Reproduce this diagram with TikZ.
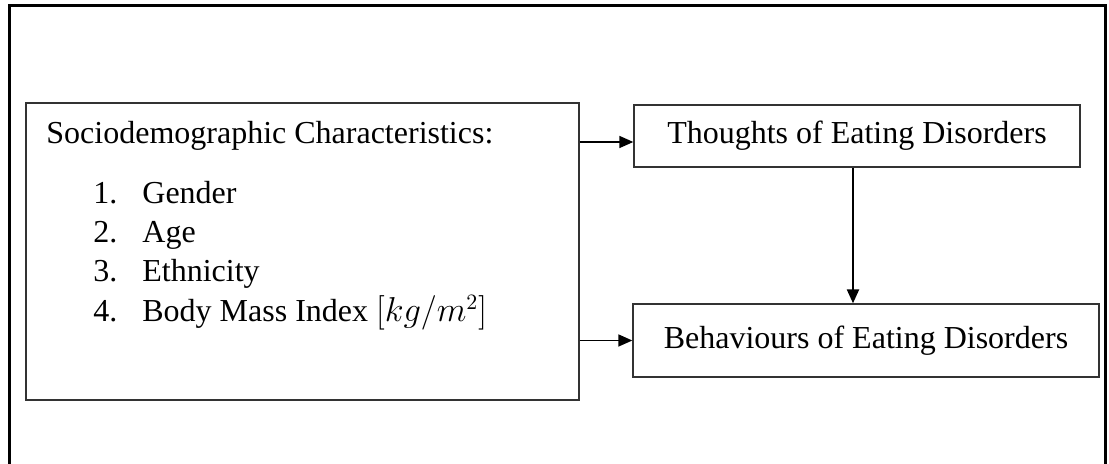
\documentclass[tikz,border=0pt]{standalone}
\usepackage{fontspec}
\setmainfont{Liberation Serif}
\usepackage{tikz}
\usetikzlibrary{arrows.meta}
\definecolor{ink}{HTML}{000000}
\definecolor{boxline}{HTML}{333333}
\tikzset{
  frame/.style={draw=ink, line width=1.5pt},
  card/.style={draw=boxline, line width=0.65pt, inner sep=0pt},
  link/.style={draw=ink, line width=0.75pt, -{Triangle[length=7pt,width=6pt]}},
  linkb/.style={link, line width=1.1pt},
  lab/.style={text=ink, font=\fontsize{16}{19}\selectfont, inner sep=0pt},
}

\begin{document}
\begin{tikzpicture}[x=0.5pt,y=-0.5pt]
  \useasboundingbox (0,0) rectangle (1109,464);
  \draw[frame] (9,6) rectangle (1105,480);

  \node[card,minimum width=276.5pt,minimum height=148.5pt] (src) at (302.5,251.5) {};
  \node[card,minimum width=223pt,minimum height=31pt] (thoughts) at (857,136)
    {\fontsize{16}{19}\selectfont Thoughts of Eating Disorders};
  \node[card,minimum width=233pt,minimum height=36.5pt] (behav) at (866,340.5)
    {\fontsize{16}{19}\selectfont Behaviours of Eating Disorders};

  \node[lab,anchor=base west] (head) at (46,144) {Sociodemographic Characteristics:};
  \foreach \i/\t/\y in {1/Gender/204, 2/Age/243, 3/Ethnicity/282,
                        4/{Body Mass Index $[kg/m^2]$}/322} {
    \node[lab,anchor=base west] (num\i) at (93,\y) {\i.};
    \node[lab,anchor=base west] (item\i) at (142,\y) {\t};
  }

  \draw[link] ([yshift=-3pt]src.east |- thoughts.west) -- ([yshift=-3pt]thoughts.west);
  \draw[link] (src.east |- behav.west) -- (behav.west);
  \draw[linkb] ([xshift=-2pt]thoughts.south) -- ([xshift=-2pt]thoughts.south |- behav.north);
\end{tikzpicture}
\end{document}
